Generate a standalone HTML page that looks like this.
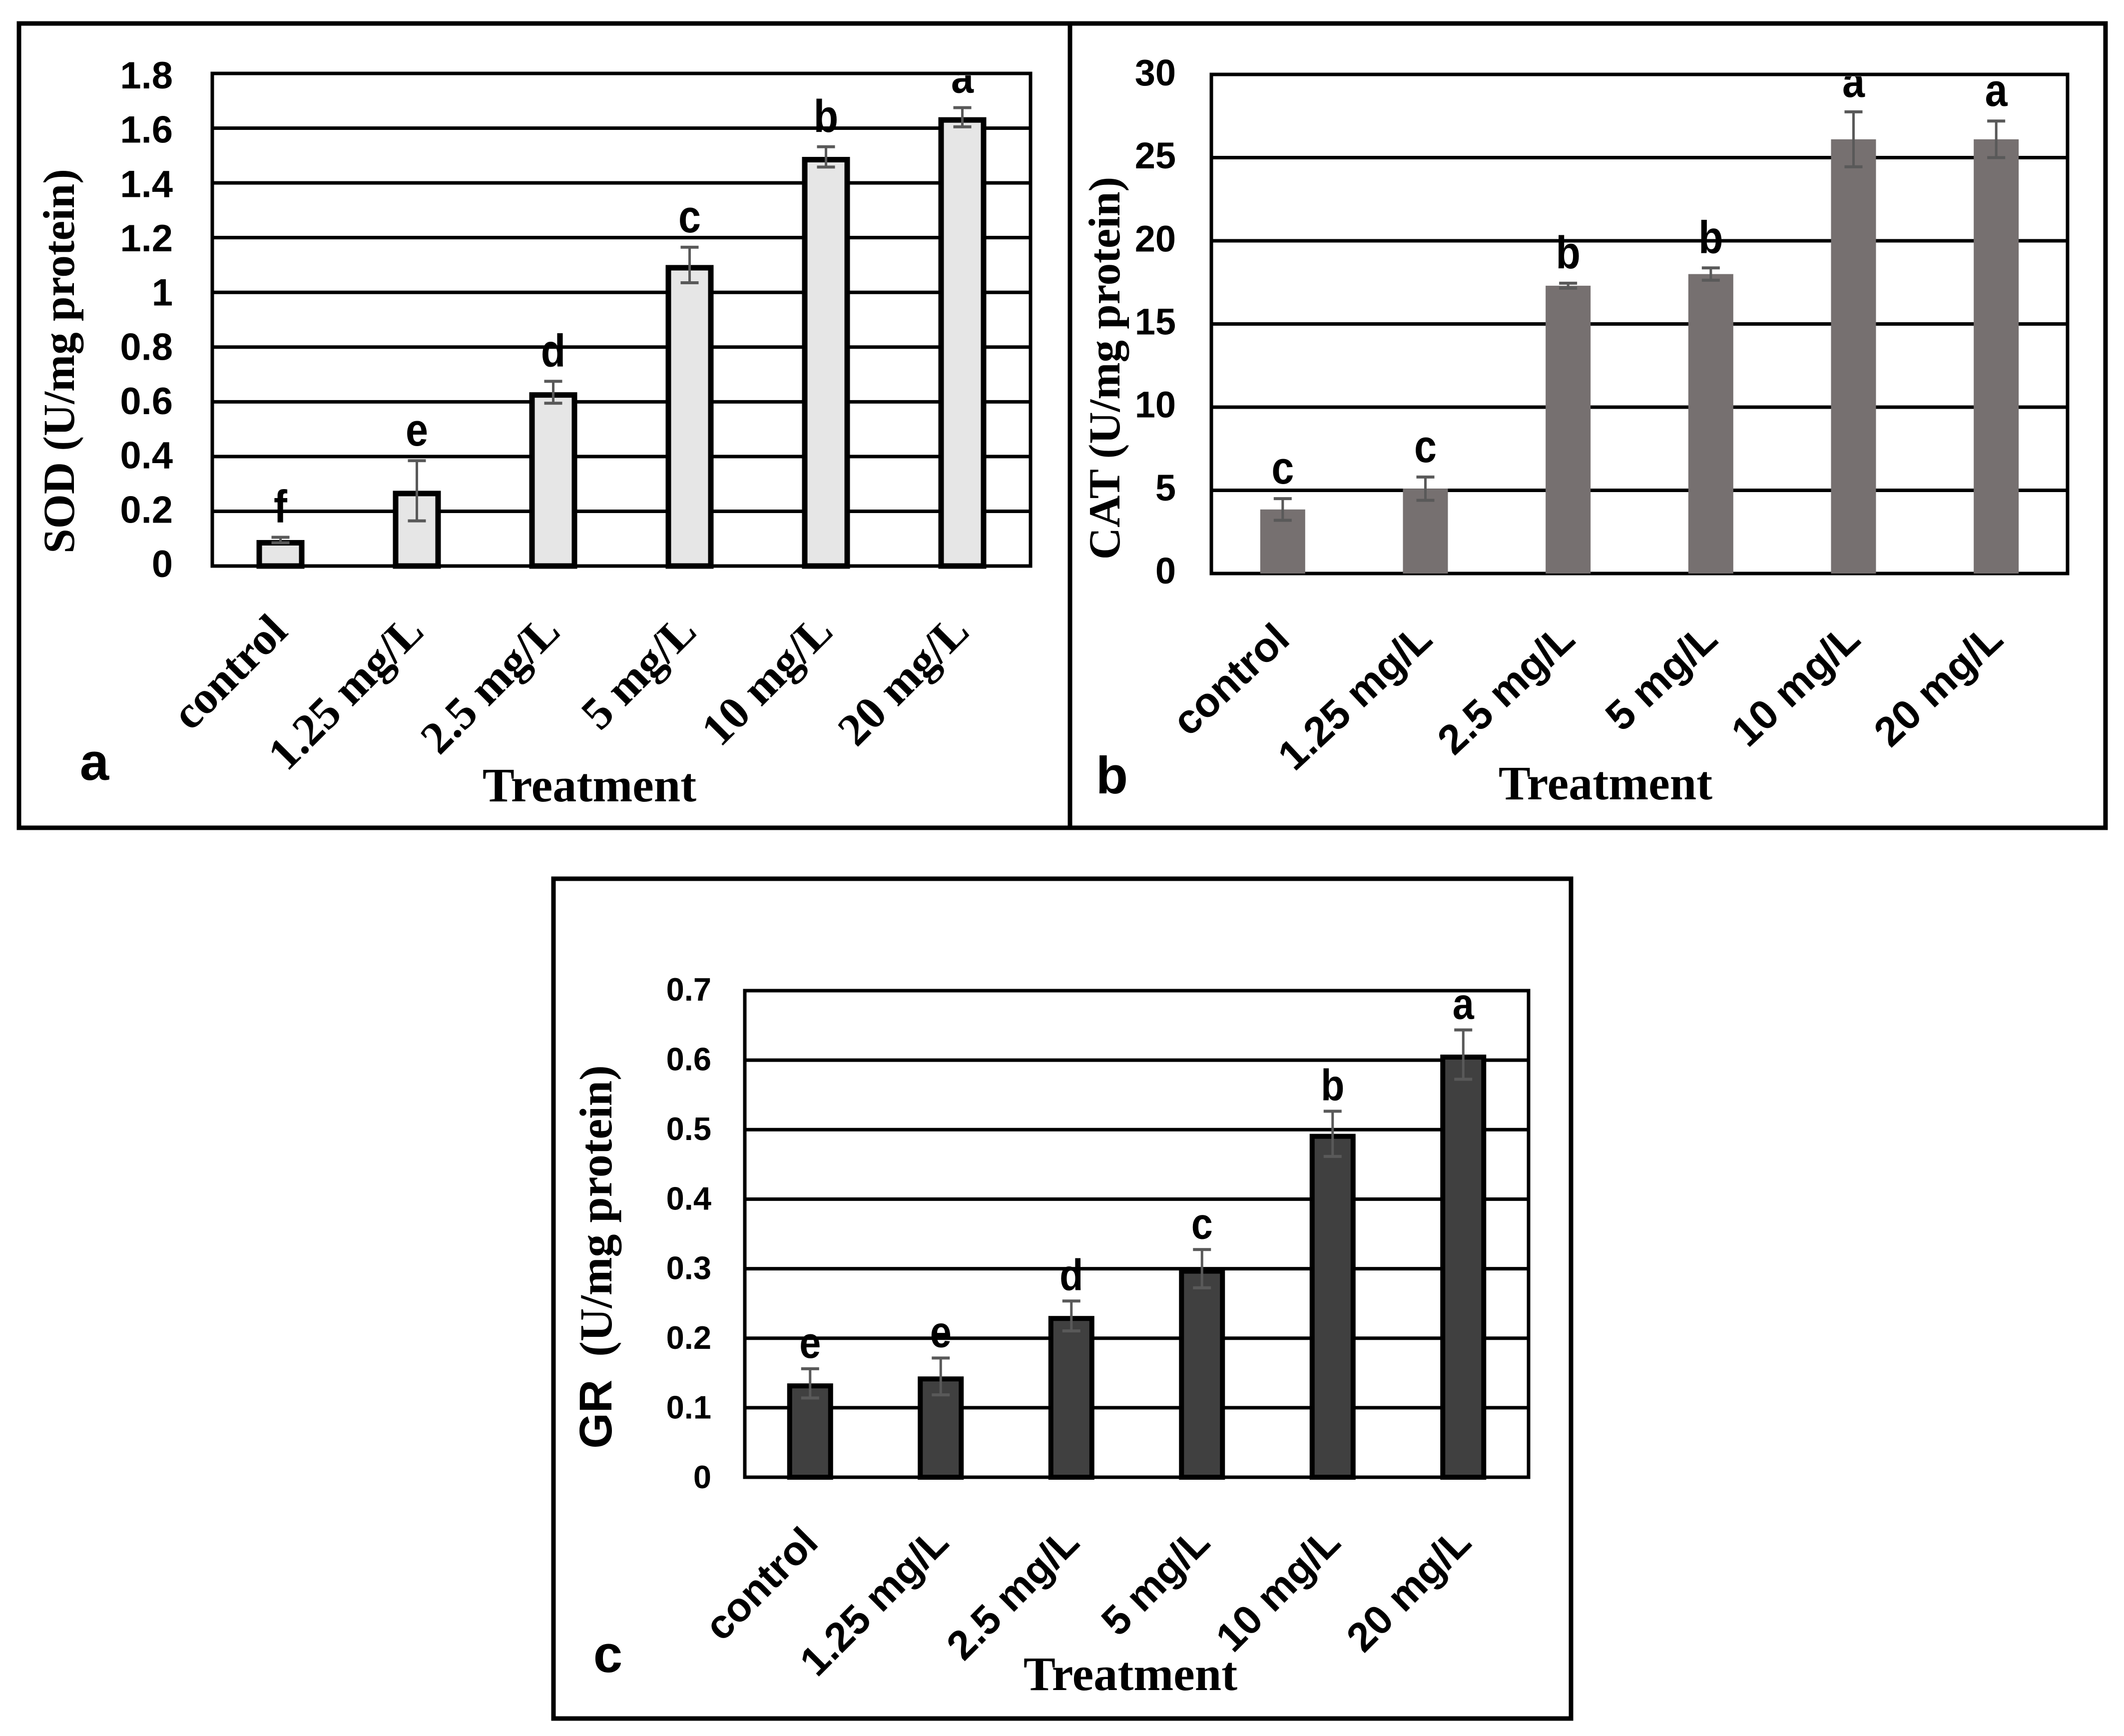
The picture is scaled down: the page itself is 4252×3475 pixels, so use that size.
<!DOCTYPE html>
<html lang="en">
<head>
<meta charset="utf-8">
<title>SOD, CAT and GR activity by treatment</title>
<style>
html,body{margin:0;padding:0;background:#fff;width:4252px;height:3475px;overflow:hidden}
svg{display:block}
.sans{font-family:"Liberation Sans",sans-serif;font-weight:700}
.serif{font-family:"Liberation Serif",serif;font-weight:700}
</style>
</head>
<body>
<svg id="figure" xmlns="http://www.w3.org/2000/svg" width="4252" height="3475" viewBox="0 0 4252 3475">
  <rect x="0" y="0" width="4252" height="3475" fill="#ffffff"/>
  <rect x="38" y="47" width="2104" height="1610" fill="none" stroke="#000" stroke-width="9"/>
  <rect x="2142" y="47" width="2073" height="1610" fill="none" stroke="#000" stroke-width="9"/>
  <rect x="1108" y="1759" width="2037" height="1681" fill="none" stroke="#000" stroke-width="9"/>
</svg>
<script>
// ---- Shared categories ----
const categories = ["control", "1.25 mg/L", "2.5 mg/L", "5 mg/L", "10 mg/L", "20 mg/L"];

// ---- Panel a: SOD ----
const sodTicks = ["0", "0.2", "0.4", "0.6", "0.8", "1", "1.2", "1.4", "1.6", "1.8"];
const sodValues = [0.095, 0.275, 0.635, 1.1, 1.495, 1.64];
const sodErrors = [0.01, 0.11, 0.04, 0.065, 0.037, 0.035];
const sodLetters = ["f", "e", "d", "c", "b", "a"];

// ---- Panel b: CAT ----
const catTicks = ["0", "5", "10", "15", "20", "25", "30"];
const catValues = [3.85, 5.1, 17.3, 18.0, 26.1, 26.1];
const catErrors = [0.65, 0.7, 0.15, 0.37, 1.65, 1.1];
const catLetters = ["c", "c", "b", "b", "a", "a"];

// ---- Panel c: GR ----
const grTicks = ["0", "0.1", "0.2", "0.3", "0.4", "0.5", "0.6", "0.7"];
const grValues = [0.135, 0.145, 0.232, 0.3, 0.494, 0.608];
const grErrors = [0.021, 0.0265, 0.0215, 0.0275, 0.0325, 0.0355];
const grLetters = ["e", "e", "d", "c", "b", "a"];

const SVG_NS = "http://www.w3.org/2000/svg";
const root = document.getElementById("figure");

function make(parent, tag, attrs, text) {
  const el = document.createElementNS(SVG_NS, tag);
  for (const k in attrs) el.setAttribute(k, attrs[k]);
  if (text !== undefined) el.textContent = text;
  parent.appendChild(el);
  return el;
}

function drawPanel(o) {
  const g = make(root, "g", {});
  
  

  const tickNums = o.ticks.map(Number);
  const yMax = Math.max.apply(null, tickNums);
  const yOf = function (v) { return o.bottom - (v / yMax) * (o.bottom - o.top); };
  const band = (o.right - o.left) / o.cats.length;
  const xOf = function (i) { return o.left + (i + 0.5) * band; };

  // gridlines
  tickNums.forEach(function (t) {
    if (t === 0 || t === yMax) return;
    const line = make(g, "line", { x1: o.left, x2: o.right, y1: yOf(t), y2: yOf(t), stroke: "#000", "stroke-width": o.gridWidth });
    
    
  });

  // plot border
  const border = make(g, "rect", { x: o.left, y: o.top, width: o.right - o.left, height: o.bottom - o.top, fill: "none", stroke: "#000", "stroke-width": 7 });
  
  

  // y tick labels
  o.ticks.forEach(function (label, i) {
    const frac = i / (o.ticks.length - 1);
    const ly = o.labelBottom + (o.labelTop - o.labelBottom) * frac;
    const t = make(g, "text", { x: o.tickRight, y: ly, "text-anchor": "end", "font-size": o.tickSize, class: "sans", fill: "#000" }, label);
    
    
  });

  // bars
  o.values.forEach(function (v, i) {
    const inset = o.barStroke / 2;
    const bar = make(g, "rect", {
      x: xOf(i) - o.barWidth / 2 + inset,
      y: yOf(v) + inset,
      width: o.barWidth - o.barStroke,
      height: Math.max(0, o.bottom - yOf(v) - inset),
      fill: o.barFill,
      stroke: o.barStroke ? "#000" : "none",
      "stroke-width": o.barStroke
    });
    
    
  });

  // error bars
  o.values.forEach(function (v, i) {
    const cx = xOf(i);
    const yHi = yOf(v + o.errors[i]);
    const yLo = yOf(v - o.errors[i]);
    const stem = make(g, "line", { x1: cx, x2: cx, y1: yHi, y2: yLo, stroke: "#595959", "stroke-width": 5 });
    
    
    const capTop = make(g, "line", { x1: cx - 18, x2: cx + 18, y1: yHi, y2: yHi, stroke: "#595959", "stroke-width": 6 });
    
    
    const capBottom = make(g, "line", { x1: cx - 18, x2: cx + 18, y1: yLo, y2: yLo, stroke: "#595959", "stroke-width": 6 });
    
    
  });

  // significance letters (clipped at the top of the plot, as in the figure)
  const clip = make(g, "clipPath", { id: "clip-" + o.id });
  make(clip, "rect", { x: o.left, y: o.top + 4, width: o.right - o.left, height: o.bottom - o.top });
  const lettersGroup = make(g, "g", { "clip-path": "url(#clip-" + o.id + ")" });
  
  
  o.letters.forEach(function (l, i) {
    const ly = yOf(o.values[i] + o.errors[i]) - o.letterGap;
    const t = make(lettersGroup, "text", {
      "text-anchor": "middle",
      "font-size": o.letterSize,
      class: "sans",
      fill: "#000",
      transform: "translate(" + xOf(i) + " " + ly + ") scale(0.88 1)"
    }, l);
    
    
  });

  // x tick labels
  o.cats.forEach(function (c, i) {
    const ax = xOf(i) + o.catDx;
    const t = make(g, "text", {
      x: ax, y: o.catY, "text-anchor": "end", "font-size": o.catSize, class: o.catClass, fill: "#000",
      transform: "rotate(" + (-o.catAngle) + " " + ax + " " + o.catY + ")"
    }, c);
    
    
  });

  // axis titles
  const xTitle = make(g, "text", { x: o.xTitleX, y: o.xTitleY, "text-anchor": "middle", "font-size": 96, class: "serif", fill: "#000" }, "Treatment");
  
  

  const yTitle = make(g, "text", {
    x: o.yTitleX, y: o.yTitleY, "text-anchor": "middle", "font-size": o.yTitleSize, class: "serif", fill: "#000",
    transform: "rotate(-90 " + o.yTitleX + " " + o.yTitleY + ")"
  });
  
  
  if (o.yTitleLead) {
    make(yTitle, "tspan", { class: "sans" }, o.yTitleLead);
  }
  make(yTitle, "tspan", {}, o.yTitle);

  // panel letter
  const pl = make(g, "text", { x: o.panelX, y: o.panelY, "text-anchor": "middle", "font-size": 105, class: "sans", fill: "#000" }, o.id);
  
  
}

drawPanel({
  id: "a", cats: categories, ticks: sodTicks, values: sodValues, errors: sodErrors, letters: sodLetters,
  left: 425, right: 2063, top: 147, bottom: 1133,
  gridWidth: 7, barWidth: 96, barStroke: 11, barFill: "#e6e6e6",
  tickRight: 346, tickSize: 76, labelBottom: 1155, labelTop: 177,
  letterGap: 30, letterSize: 92,
  catDx: 18, catY: 1268, catSize: 92, catAngle: 45, catClass: "serif",
  xTitleX: 1180, xTitleY: 1604,
  yTitle: "SOD (U/mg protein)", yTitleX: 148, yTitleY: 723, yTitleSize: 89,
  panelX: 189, panelY: 1561
});

drawPanel({
  id: "b", cats: categories, ticks: catTicks, values: catValues, errors: catErrors, letters: catLetters,
  left: 2425, right: 4139, top: 149, bottom: 1148,
  gridWidth: 7, barWidth: 90, barStroke: 0, barFill: "#767070",
  tickRight: 2354, tickSize: 74, labelBottom: 1168, labelTop: 171,
  letterGap: 30, letterSize: 92,
  catDx: 18, catY: 1285, catSize: 83, catAngle: 43, catClass: "sans",
  xTitleX: 3214, xTitleY: 1600,
  yTitle: "CAT (U/mg protein)", yTitleX: 2241, yTitleY: 737, yTitleSize: 89,
  panelX: 2226, panelY: 1588
});

drawPanel({
  id: "c", cats: categories, ticks: grTicks, values: grValues, errors: grErrors, letters: grLetters,
  left: 1491, right: 3060, top: 1983, bottom: 2957,
  gridWidth: 7, barWidth: 92, barStroke: 10, barFill: "#404040",
  tickRight: 1424, tickSize: 65, labelBottom: 2979, labelTop: 2003,
  letterGap: 22, letterSize: 88,
  catDx: 20, catY: 3092, catSize: 82, catAngle: 45, catClass: "sans",
  xTitleX: 2263, xTitleY: 3383,
  yTitleLead: "GR", yTitle: "\u00A0\u00A0(U/mg protein)", yTitleX: 1224, yTitleY: 2516, yTitleSize: 92,
  panelX: 1217, panelY: 3347
});
</script>
</body>
</html>
